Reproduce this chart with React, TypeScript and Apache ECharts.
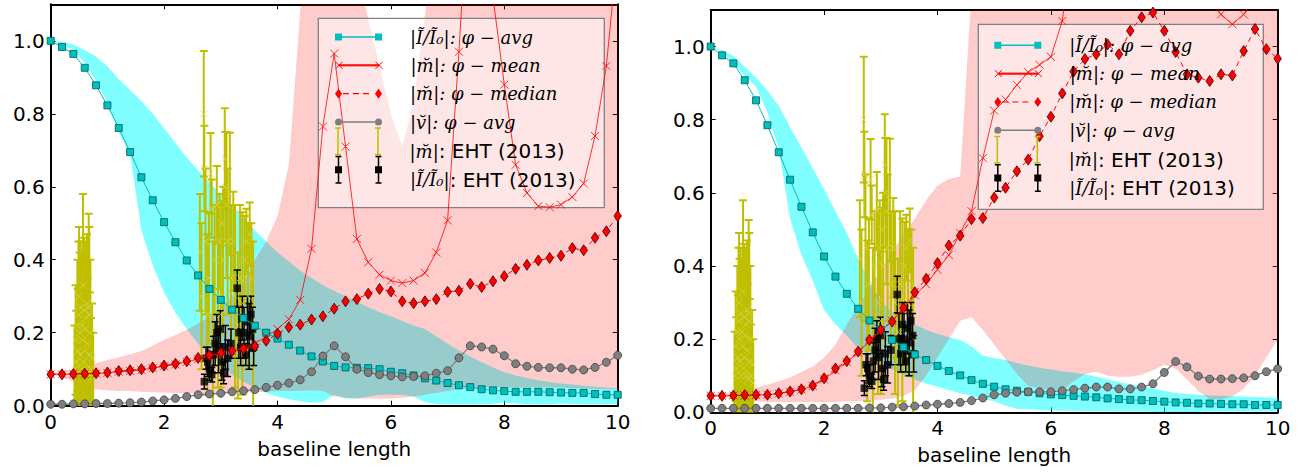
import React, { useEffect, useRef } from "react";
import * as echarts from "echarts";

// ---------- data ----------
const baselineLength = [
  0, 0.2, 0.4, 0.6, 0.8, 1, 1.2, 1.4, 1.6, 1.8,
  2, 2.2, 2.4, 2.6, 2.8, 3, 3.2, 3.4, 3.6, 3.8,
  4, 4.2, 4.4, 4.6, 4.8, 5, 5.2, 5.4, 5.6, 5.8,
  6, 6.2, 6.4, 6.6, 6.8, 7, 7.2, 7.4, 7.6, 7.8,
  8, 8.2, 8.4, 8.6, 8.8, 9, 9.2, 9.4, 9.6, 9.8,
  10,
];

// left panel
const intensityAvgL = [
  1.0, 0.983, 0.964, 0.926, 0.878, 0.823, 0.761, 0.695, 0.626, 0.563,
  0.503, 0.448, 0.398, 0.357, 0.32, 0.29, 0.263, 0.24, 0.219, 0.2,
  0.184, 0.167, 0.151, 0.135, 0.121, 0.109, 0.105, 0.104, 0.103, 0.1,
  0.093, 0.089, 0.083, 0.075, 0.069, 0.062, 0.056, 0.051, 0.045, 0.042,
  0.04, 0.038, 0.038, 0.038, 0.037, 0.036, 0.035, 0.035, 0.032, 0.03,
  0.03,
];
const intensityHiL = [
  1.0, 0.998, 0.99, 0.975, 0.957, 0.93, 0.895, 0.865, 0.835, 0.8,
  0.76, 0.72, 0.68, 0.645, 0.61, 0.58, 0.55, 0.515, 0.48, 0.45,
  0.42, 0.395, 0.37, 0.35, 0.33, 0.315, 0.3, 0.285, 0.27, 0.257,
  0.245, 0.232, 0.22, 0.21, 0.19, 0.17, 0.152, 0.135, 0.12, 0.105,
  0.092, 0.083, 0.076, 0.07, 0.065, 0.061, 0.058, 0.055, 0.052, 0.05,
  0.048,
];
const intensityLoL = [
  1.0, 0.99, 0.975, 0.94, 0.89, 0.83, 0.75, 0.69, 0.48, 0.385,
  0.31, 0.255, 0.21, 0.17, 0.14, 0.11, 0.085, 0.065, 0.05, 0.035,
  0.025, 0.018, 0.012, 0.008, 0.01, 0.03, 0.02, 0.02, 0.025, 0.03,
  0.03, 0.03, 0.025, 0.01, 0.005, 0.003, 0.003, 0.003, 0.003, 0.005,
  0.008, 0.006, 0.004, 0.003, 0.004, 0.006, 0.005, 0.004, 0.004, 0.004,
  0.005,
];
const ampLoL = [
  0.086, 0.08, 0.065, 0.05, 0.045, 0.042, 0.04, 0.04, 0.038, 0.037,
  0.036, 0.035, 0.035, 0.034, 0.034, 0.034, 0.035, 0.036, 0.037, 0.038,
  0.04, 0.04, 0.041, 0.042, 0.04, 0.025, 0.022, 0.02, 0.02, 0.02,
  0.02, 0.022, 0.025, 0.03, 0.035, 0.04, 0.045, 0.048, 0.05, 0.05,
  0.05, 0.05, 0.05, 0.05, 0.05, 0.05, 0.048, 0.047, 0.046, 0.045,
  0.045,
];
const ampHiL = [
  0.09, 0.095, 0.1, 0.108, 0.116, 0.125, 0.133, 0.141, 0.15, 0.165,
  0.18, 0.194, 0.208, 0.225, 0.245, 0.27, 0.3, 0.335, 0.4, 0.45,
  0.52, 0.66, 1.08, 1.5, 1.6, 1.6, 1.4, 1.2, 1.06, 0.93,
  0.8, 0.71, 0.83, 1.07, 1.3, 1.5, 1.5, 1.5, 1.5, 1.5,
  1.5, 1.5, 1.5, 1.5, 1.5, 1.5, 1.5, 1.5, 1.5, 1.5,
  1.5,
];
const ampMedianL = [
  0.086, 0.086, 0.087, 0.088, 0.089, 0.091, 0.095, 0.097, 0.1, 0.105,
  0.11, 0.115, 0.122, 0.131, 0.138, 0.145, 0.15, 0.156, 0.163, 0.178,
  0.197, 0.215, 0.222, 0.236, 0.245, 0.266, 0.286, 0.292, 0.307, 0.32,
  0.313, 0.286, 0.281, 0.286, 0.292, 0.312, 0.315, 0.334, 0.325, 0.341,
  0.355, 0.375, 0.386, 0.398, 0.405, 0.411, 0.432, 0.426, 0.46, 0.478,
  0.52,
];
const ampMeanL = [
  0.086, 0.086, 0.087, 0.087, 0.088, 0.09, 0.093, 0.095, 0.098, 0.103,
  0.108, 0.113, 0.12, 0.128, 0.136, 0.143, 0.15, 0.158, 0.17, 0.19,
  0.21, 0.237, 0.29, 0.43, 0.765, 0.965, 0.71, 0.457, 0.393, 0.359,
  0.343, 0.336, 0.343, 0.364, 0.42, 0.508, 0.97, 1.5, 1.6, 1.12,
  0.88, 0.66, 0.583, 0.547, 0.544, 0.551, 0.572, 0.609, 0.739, 0.931,
  1.25,
];
const visAvgL = [
  0.004, 0.004, 0.005, 0.005, 0.006, 0.006, 0.007, 0.008, 0.01, 0.013,
  0.016, 0.02, 0.025, 0.03, 0.032, 0.034, 0.038, 0.041, 0.044, 0.05,
  0.056, 0.062, 0.071, 0.093, 0.136, 0.164, 0.134, 0.1, 0.091, 0.085,
  0.082, 0.079, 0.08, 0.082, 0.089, 0.096, 0.131, 0.164, 0.161, 0.155,
  0.137, 0.115, 0.108, 0.105, 0.104, 0.104, 0.1, 0.098, 0.105, 0.119,
  0.138,
];

// right panel
const intensityAvgR = [
  1.0, 0.976, 0.954, 0.908, 0.853, 0.785, 0.711, 0.636, 0.562, 0.492,
  0.426, 0.371, 0.324, 0.283, 0.251, 0.225, 0.198, 0.178, 0.158, 0.143,
  0.127, 0.113, 0.101, 0.088, 0.078, 0.07, 0.063, 0.059, 0.056, 0.052,
  0.049, 0.047, 0.045, 0.043, 0.041, 0.038, 0.036, 0.034, 0.033, 0.031,
  0.029, 0.027, 0.026, 0.024, 0.024, 0.023, 0.022, 0.022, 0.02, 0.02,
  0.02,
];
const intensityHiR = [
  1.0, 0.99, 0.975, 0.945, 0.915, 0.88, 0.838, 0.78, 0.725, 0.667,
  0.61, 0.55, 0.49, 0.42, 0.36, 0.305, 0.272, 0.255, 0.24, 0.226,
  0.215, 0.205, 0.198, 0.18, 0.155, 0.148, 0.143, 0.135, 0.128, 0.122,
  0.117, 0.112, 0.108, 0.104, 0.097, 0.09, 0.083, 0.077, 0.072, 0.065,
  0.058, 0.053, 0.05, 0.048, 0.046, 0.045, 0.044, 0.043, 0.042, 0.041,
  0.04,
];
const intensityLoR = [
  1.0, 0.985, 0.955, 0.92, 0.89, 0.82, 0.72, 0.53, 0.43, 0.36,
  0.28, 0.24, 0.21, 0.175, 0.155, 0.135, 0.117, 0.103, 0.09, 0.079,
  0.07, 0.06, 0.052, 0.045, 0.036, 0.03, 0.018, 0.01, 0.008, 0.006,
  0.005, 0.004, 0.004, 0.003, 0.003, 0.003, 0.002, 0.002, 0.002, 0.001,
  0.0, 0.0, 0.001, 0.001, 0.002, 0.002, 0.002, 0.002, 0.002, 0.002,
  0.002,
];
const ampLoR = [
  0.045, 0.04, 0.035, 0.03, 0.03, 0.028, 0.028, 0.028, 0.028, 0.028,
  0.028, 0.028, 0.03, 0.03, 0.032, 0.034, 0.038, 0.045, 0.06, 0.1,
  0.15, 0.2, 0.25, 0.26, 0.225, 0.185, 0.145, 0.105, 0.072, 0.065,
  0.062, 0.061, 0.085, 0.105, 0.111, 0.1, 0.097, 0.097, 0.103, 0.115,
  0.13, 0.12, 0.09, 0.058, 0.036, 0.035, 0.043, 0.065, 0.1, 0.15,
  0.198,
];
const ampHiR = [
  0.05, 0.052, 0.055, 0.06, 0.068, 0.075, 0.085, 0.095, 0.11, 0.125,
  0.15, 0.185, 0.24, 0.29, 0.34, 0.39, 0.44, 0.485, 0.53, 0.58,
  0.62, 0.638, 0.645, 1.15, 1.5, 1.5, 1.5, 1.5, 1.5, 1.5,
  1.5, 1.5, 1.5, 1.5, 1.5, 1.5, 1.5, 1.5, 1.5, 1.5,
  1.5, 1.5, 1.5, 1.5, 1.5, 1.5, 1.5, 1.5, 1.5, 1.5,
  1.5,
];
const ampMedianR = [
  0.045, 0.045, 0.046, 0.047, 0.048, 0.048, 0.052, 0.057, 0.063, 0.073,
  0.093, 0.12, 0.14, 0.166, 0.198, 0.225, 0.248, 0.285, 0.328, 0.365,
  0.408, 0.456, 0.483, 0.528, 0.531, 0.587, 0.614, 0.659, 0.691, 0.755,
  0.808, 0.872, 0.932, 0.966, 0.979, 1.006, 0.979, 1.043, 1.08, 1.093,
  1.043, 0.985, 0.924, 0.915, 0.906, 0.924, 0.921, 0.988, 1.048, 0.993,
  0.967,
];
const ampMeanR = [
  0.045, 0.045, 0.046, 0.046, 0.047, 0.048, 0.051, 0.056, 0.062, 0.072,
  0.09, 0.115, 0.137, 0.163, 0.195, 0.222, 0.25, 0.285, 0.32, 0.35,
  0.39, 0.43, 0.49, 0.55, 0.695, 0.825, 0.855, 0.895, 0.93, 0.95,
  0.972, 1.07, 1.3, 1.6, 1.9, 2.0, 2.0, 1.9, 1.7, 1.5,
  1.4, 1.3, 1.25, 1.18, 1.13, 1.088, 1.061, 1.088, 1.14, 1.3,
  1.5,
];
const visAvgR = [
  0.011, 0.011, 0.011, 0.011, 0.011, 0.011, 0.011, 0.011, 0.011, 0.011,
  0.011, 0.011, 0.011, 0.011, 0.012, 0.012, 0.014, 0.015, 0.017, 0.02,
  0.022, 0.024, 0.027, 0.032, 0.039, 0.048, 0.052, 0.055, 0.056, 0.056,
  0.056, 0.059, 0.062, 0.066, 0.069, 0.069, 0.064, 0.064, 0.069, 0.078,
  0.109, 0.139, 0.124, 0.099, 0.091, 0.091, 0.092, 0.094, 0.1, 0.111,
  0.119,
];

// EHT (2013) observations, shared by both panels
const ehtAmpX = [
  0.42, 0.44, 0.45, 0.47, 0.48, 0.49, 0.5, 0.51, 0.52, 0.53,
  0.54, 0.55, 0.56, 0.57, 0.58, 0.59, 0.6, 0.61, 0.62, 0.63,
  0.64, 0.65, 0.66, 0.67, 0.68, 0.69, 0.7, 0.71, 0.73, 0.75,
  2.63, 2.66, 2.7, 2.71, 2.73, 2.76, 2.79, 2.82, 2.84, 2.86,
  2.89, 2.93, 2.95, 2.98, 3.0, 3.02, 3.04, 3.07, 3.08, 3.1,
  3.12, 3.16, 3.18, 3.22, 3.25, 3.3, 3.34, 3.38, 3.42, 3.45,
  3.48, 3.51, 3.54, 3.57,
];
const ehtAmpY = [
  0.1, 0.18, 0.12, 0.22, 0.15, 0.25, 0.3, 0.2, 0.14, 0.27,
  0.1, 0.22, 0.18, 0.33, 0.12, 0.26, 0.15, 0.21, 0.24, 0.1,
  0.28, 0.17, 0.09, 0.27, 0.25, 0.14, 0.2, 0.1, 0.13, 0.08,
  0.42, 0.3, 0.8, 0.65, 0.45, 0.25, 0.35, 0.637, 0.54, 0.2,
  0.4, 0.55, 0.3, 0.45, 0.25, 0.5, 0.4, 0.677, 0.6, 0.55,
  0.45, 0.58, 0.35, 0.45, 0.3, 0.22, 0.35, 0.28, 0.4, 0.45,
  0.3, 0.47, 0.35, 0.2,
];
const ehtAmpErr = [
  0.12, 0.15, 0.14, 0.18, 0.17, 0.2, 0.19, 0.22, 0.16, 0.18,
  0.12, 0.2, 0.17, 0.25, 0.15, 0.2, 0.18, 0.19, 0.21, 0.13,
  0.19, 0.18, 0.11, 0.256, 0.24, 0.17, 0.2, 0.14, 0.15, 0.12,
  0.16, 0.2, 0.172, 0.117, 0.2, 0.22, 0.18, 0.11, 0.08, 0.25,
  0.15, 0.107, 0.25, 0.13, 0.2, 0.06, 0.2, 0.138, 0.15, 0.2,
  0.2, 0.168, 0.2, 0.136, 0.25, 0.2, 0.2, 0.25, 0.12, 0.09,
  0.2, 0.087, 0.15, 0.25,
];
const ehtIntX = [
  2.71, 2.74, 2.77, 2.8, 2.84, 2.87, 2.9, 2.93, 2.96, 2.99,
  3.02, 3.05, 3.08, 3.12, 3.18, 3.29, 3.32, 3.35, 3.38, 3.41,
  3.44, 3.47, 3.5, 3.53, 3.56, 3.58,
];
const ehtIntY = [
  0.066, 0.13, 0.12, 0.1, 0.085, 0.14, 0.17, 0.2, 0.15, 0.21,
  0.12, 0.09, 0.16, 0.13, 0.17, 0.322, 0.2, 0.16, 0.24, 0.2,
  0.14, 0.23, 0.19, 0.25, 0.21, 0.16,
];
const ehtIntErr = [
  0.02, 0.03, 0.04, 0.03, 0.02, 0.05, 0.06, 0.05, 0.06, 0.05,
  0.05, 0.03, 0.06, 0.05, 0.04, 0.05, 0.07, 0.05, 0.06, 0.07,
  0.03, 0.07, 0.09, 0.05, 0.06, 0.05,
];

const yTicks = [0, 0.2, 0.4, 0.6, 0.8, 1.0];
const xTicks = [0, 2, 4, 6, 8, 10];

// ---------- names ----------
const N_I = "|Ĩ/Ĩ₀|: φ − avg";
const N_MEAN = "|m̆|: φ − mean";
const N_MED = "|m̆|: φ − median";
const N_V = "|v̆|: φ − avg";
const N_EHT_M = "|m̆|: EHT (2013)";
const N_EHT_I = "|Ĩ/Ĩ₀|: EHT (2013)";
const legendNames = [N_I, N_MEAN, N_MED, N_V, N_EHT_M, N_EHT_I];

const SANS = "DejaVu Sans";
const SERIF = "DejaVu Serif";
const XMARK = "path://M0,0L10,10M10,0L0,10";

const pairs = (xs: number[], ys: number[]) => xs.map((x, i) => [x, ys[i]]);

function bandSeries(name: string, lo: number[], hi: number[], color: string, axis: any) {
  return {
    type: "custom", name, ...axis, clip: true, silent: true, z: 1,
    data: baselineLength.map((x, i) => [x, lo[i], hi[i]]),
    encode: { x: 0, y: [1, 2] },
    renderItem: (params: any, api: any) => {
      if (params.dataIndex !== 0) return null;
      const upper = baselineLength.map((x, i) => api.coord([x, hi[i]]));
      const lower = baselineLength.map((x, i) => api.coord([x, lo[i]])).reverse();
      return {
        type: "polygon",
        shape: { points: upper.concat(lower) },
        style: { fill: color, stroke: "none" },
      };
    },
  };
}

function errorBarSeries(name: string, xs: number[], ys: number[], es: number[], color: string, width: number, cap: number, axis: any) {
  return {
    type: "custom", name, ...axis, clip: true, silent: true,
    data: xs.map((x, i) => [x, ys[i], es[i]]),
    encode: { x: 0, y: 1 },
    renderItem: (_p: any, api: any) => {
      const x = api.value(0), y = api.value(1), e = api.value(2);
      const top = api.coord([x, y + e]);
      const bot = api.coord([x, y - e]);
      const style = { stroke: color, lineWidth: width, fill: "none" };
      return {
        type: "group",
        children: [
          { type: "line", shape: { x1: top[0], y1: top[1], x2: bot[0], y2: bot[1] }, style },
          { type: "line", shape: { x1: top[0] - cap, y1: top[1], x2: top[0] + cap, y2: top[1] }, style },
          { type: "line", shape: { x1: bot[0] - cap, y1: bot[1], x2: bot[0] + cap, y2: bot[1] }, style },
        ],
      };
    },
  };
}

function panelSeries(axis: any, d: any) {
  return [
    bandSeries("intensity spread " + axis.xAxisIndex, d.iLo, d.iHi, "rgba(0,255,255,0.5)", axis),
    bandSeries("amplitude spread " + axis.xAxisIndex, d.aLo, d.aHi, "rgba(255,0,0,0.2)", axis),
    {
      type: "line", name: N_I, ...axis, data: pairs(baselineLength, d.iAvg),
      symbol: "rect", symbolSize: 7,
      itemStyle: { color: "#00bfbf", borderColor: "#005a5a", borderWidth: 0.8 },
      lineStyle: { color: "#00bfbf", width: 1 }, silent: true,
    },
    {
      type: "line", name: N_MEAN, ...axis, data: pairs(baselineLength, d.mean),
      symbol: XMARK, symbolSize: 8,
      itemStyle: { color: "none", borderColor: "rgba(255,0,0,0.8)", borderWidth: 1 },
      lineStyle: { color: "rgba(255,0,0,0.8)", width: 1 }, silent: true,
    },
    {
      type: "line", name: N_MED, ...axis, data: pairs(baselineLength, d.median),
      symbol: "diamond", symbolSize: [7.5, 11],
      itemStyle: { color: "#ff0000", borderColor: "#400000", borderWidth: 0.8 },
      lineStyle: { color: "#ff0000", width: 1, type: [5, 4] }, silent: true,
    },
    {
      type: "line", name: N_V, ...axis, data: pairs(baselineLength, d.vis),
      symbol: "circle", symbolSize: 8,
      itemStyle: { color: "#7f7f7f", borderColor: "#404040", borderWidth: 0.8 },
      lineStyle: { color: "#7f7f7f", width: 1.3 }, silent: true,
    },
    errorBarSeries(N_EHT_M, ehtAmpX, ehtAmpY, ehtAmpErr, "#bfbf00", 2, 4, axis),
    {
      type: "scatter", name: N_EHT_M, ...axis, data: pairs(ehtAmpX, ehtAmpY),
      symbol: XMARK, symbolSize: 7, silent: true,
      itemStyle: { color: "none", borderColor: "rgba(215,215,90,0.9)", borderWidth: 1 },
    },
    errorBarSeries(N_EHT_I, ehtIntX, ehtIntY, ehtIntErr, "#000000", 1.5, 3.5, axis),
    {
      type: "scatter", name: N_EHT_I, ...axis, data: pairs(ehtIntX, ehtIntY),
      symbol: "rect", symbolSize: 7.5, silent: true,
      itemStyle: { color: "#000000" },
    },
  ];
}

const axisLineStyle = { show: true, onZero: false, lineStyle: { color: "#000", width: 2 } };
const tickStyle = { show: true, inside: true, length: 5, lineStyle: { color: "#000", width: 1 } };
const labelFont = { fontFamily: SANS, fontSize: 20, color: "#000" };

const xMain = (gridIndex: number) => ({
  type: "value", gridIndex, min: xTicks[0], max: xTicks[xTicks.length - 1], interval: 2, position: "bottom",
  name: "baseline length", nameLocation: "middle", nameGap: 33,
  nameTextStyle: { ...labelFont },
  axisLine: axisLineStyle, axisTick: tickStyle,
  axisLabel: { ...labelFont, margin: 6 },
  splitLine: { show: false },
});
const xTop = (gridIndex: number) => ({
  type: "value", gridIndex, min: xTicks[0], max: xTicks[xTicks.length - 1], interval: 2, position: "top",
  axisLine: axisLineStyle, axisTick: tickStyle, axisLabel: { show: false }, splitLine: { show: false },
});
const yMain = (gridIndex: number) => ({
  type: "value", gridIndex, min: yTicks[0], max: 1.1, interval: 0.2, position: "left",
  axisLine: axisLineStyle, axisTick: tickStyle,
  axisLabel: { ...labelFont, margin: 6, showMaxLabel: false, formatter: (v: number) => (v > 1.05 ? "" : v.toFixed(1)) },
  splitLine: { show: false },
});
const yRight = (gridIndex: number) => ({
  type: "value", gridIndex, min: yTicks[0], max: 1.1, interval: 0.2, position: "right",
  axisLine: axisLineStyle, axisTick: tickStyle, axisLabel: { show: false }, splitLine: { show: false },
});

const legendIcons: Record<string, string> = {
  [N_I]: "path://M0,0h7v7h-7zM40,0h7v7h-7zM7,2.75h33v1.5h-33z",
  [N_MEAN]: "path://M0,0L7,7M0,7L7,0M40,0L47,7M40,7L47,0M3.5,3h40v1h-40z",
  [N_MED]: "path://M3.5,0L7,5L3.5,10L0,5zM43.5,0L47,5L43.5,10L40,5zM8,4.4h6v1.2h-6zM18,4.4h6v1.2h-6zM28,4.4h6v1.2h-6z",
  [N_V]: "path://M0,3.5A3.5,3.5,0,1,1,7,3.5A3.5,3.5,0,1,1,0,3.5zM40,3.5A3.5,3.5,0,1,1,47,3.5A3.5,3.5,0,1,1,40,3.5zM7,2.75h33v1.5h-33z",
  [N_EHT_M]: "path://M0.5,0h6v1.5h-6zM2.75,0h1.5v28h-1.5zM0.5,26.5h6v1.5h-6zM40.5,0h6v1.5h-6zM42.75,0h1.5v28h-1.5zM40.5,26.5h6v1.5h-6z",
  [N_EHT_I]: "path://M0.5,0h6v1.5h-6zM2.75,0h1.5v28h-1.5zM0.5,26.5h6v1.5h-6zM0,10.5h7v7h-7zM40.5,0h6v1.5h-6zM42.75,0h1.5v28h-1.5zM40.5,26.5h6v1.5h-6zM40,10.5h7v7h-7z",
};
const legendItemStyles: Record<string, any> = {
  [N_I]: { color: "#00bfbf", borderWidth: 0 },
  [N_MEAN]: { color: "#ff0000", borderColor: "#ff0000", borderWidth: 1 },
  [N_MED]: { color: "#ff0000", borderWidth: 0 },
  [N_V]: { color: "#7f7f7f", borderWidth: 0 },
  [N_EHT_M]: { color: "#bfbf00", borderWidth: 0 },
  [N_EHT_I]: { color: "#000000", borderWidth: 0 },
};
const tallIcon: Record<string, boolean> = { [N_EHT_M]: true, [N_EHT_I]: true };

function legendLabel(name: string) {
  const idx = name.indexOf(": EHT");
  if (idx >= 0) return `{sp| }{me|${name.slice(0, idx)}}{se|${name.slice(idx)}}`;
  return `{sp| }{m|${name}}`;
}

// one legend component per row, so that every row sits at its own place
const legendRows = (left: number, firstCenter: number) =>
  legendNames.map((n, k) => {
    const center = firstCenter + 28.34 * k;
    return {
      orient: "vertical", left, top: center - (tallIcon[n] ? 32 : 12), padding: 0,
      itemWidth: 47, itemHeight: 28,
      selectedMode: false, backgroundColor: "transparent", borderWidth: 0,
      data: [{ name: n, icon: legendIcons[n], itemStyle: legendItemStyles[n] }],
      formatter: legendLabel,
      textStyle: {
        color: "#000", fontSize: 18,
        rich: {
          sp: { width: 23, fontSize: 10 },
          m: { fontFamily: SERIF, fontStyle: "italic", fontSize: 18, color: "#000", lineHeight: 24 },
          me: { fontFamily: SERIF, fontStyle: "italic", fontSize: 18, color: "#000", lineHeight: 24, padding: [20, 0, 0, 0] },
          se: { fontFamily: SANS, fontSize: 20, color: "#000", lineHeight: 24, padding: [20, 0, 0, 0] },
        },
      },
    };
  });

function buildOption() {
  const leftAxis = { xAxisIndex: 0, yAxisIndex: 0 };
  const rightAxis = { xAxisIndex: 2, yAxisIndex: 2 };
  return {
    animation: false,
    backgroundColor: "#ffffff",
    grid: [
      { left: 50.7, top: 4.3, width: 567, height: 401.4 },
      { left: 710.7, top: 10, width: 567, height: 402.3 },
    ],
    xAxis: [xMain(0), xTop(0), xMain(1), xTop(1)],
    yAxis: [yMain(0), yRight(0), yMain(1), yRight(1)],
    legend: [...legendRows(335, 40), ...legendRows(994.3, 48.3)],
    graphic: [
      {
        type: "rect", z: 3, silent: true,
        shape: { x: 318.3, y: 18.3, width: 286, height: 189.4 },
        style: { fill: "rgba(255,255,255,0.5)", stroke: "#808080", lineWidth: 1.3 },
      },
      {
        type: "rect", z: 3, silent: true,
        shape: { x: 978.3, y: 24.3, width: 285, height: 185 },
        style: { fill: "rgba(255,255,255,0.5)", stroke: "#808080", lineWidth: 1.3 },
      },
    ],
    series: [
      ...panelSeries(leftAxis, {
        iLo: intensityLoL, iHi: intensityHiL, aLo: ampLoL, aHi: ampHiL,
        iAvg: intensityAvgL, mean: ampMeanL, median: ampMedianL, vis: visAvgL,
      }),
      ...panelSeries(rightAxis, {
        iLo: intensityLoR, iHi: intensityHiR, aLo: ampLoR, aHi: ampHiR,
        iAvg: intensityAvgR, mean: ampMeanR, median: ampMedianR, vis: visAvgR,
      }),
    ],
  };
}

export default function App() {
  const ref = useRef<HTMLDivElement>(null);
  useEffect(() => {
    document.body.style.margin = "0";
    const chart = echarts.init(ref.current as HTMLDivElement, undefined, { renderer: "svg" });
    chart.setOption(buildOption() as any);
    return () => chart.dispose();
  }, []);
  return <div ref={ref} style={{ width: 1309, height: 475 }} />;
}
